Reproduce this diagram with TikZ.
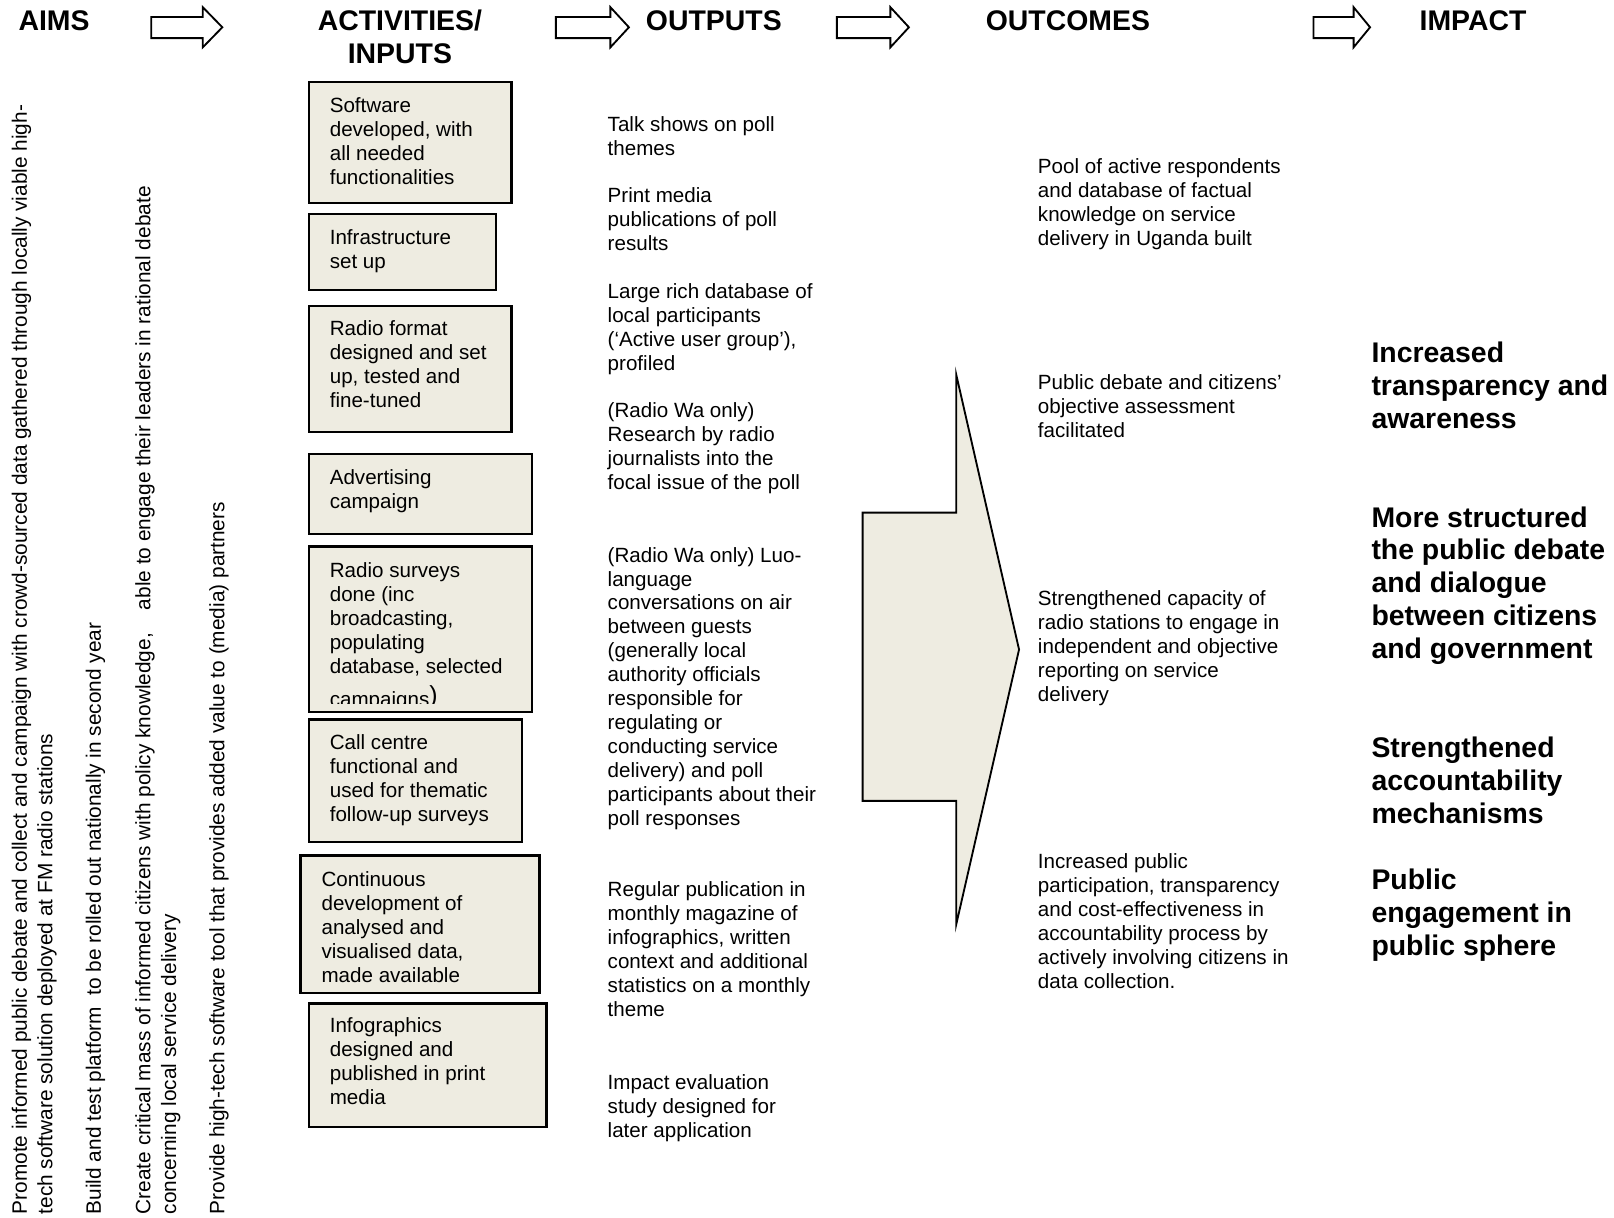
\documentclass[tikz,border=0pt]{standalone}
\usepackage{fontspec}
\setmainfont{Liberation Sans}
\usetikzlibrary{fit,calc}
\newcommand\mlines[1]{\begin{tabular}[t]{@{}l@{}}#1\end{tabular}}
\newcommand\clines[1]{\begin{tabular}[t]{@{}c@{}}#1\end{tabular}}
\definecolor{boxfill}{HTML}{EEECE1}
\begin{document}
\begin{tikzpicture}[x=0.5pt,y=-0.5pt,
  body/.style={font=\fontsize{10}{11.65}\selectfont, inner sep=0, anchor=base west},
  bigbold/.style={font=\fontsize{13.8}{16}\selectfont\bfseries, inner sep=0, anchor=base west},
  hdr/.style={font=\fontsize{13.8}{16}\selectfont\bfseries, inner sep=0, anchor=base},
  aim/.style={font=\fontsize{10.12}{11.65}\selectfont, inner sep=0, anchor=base west, rotate=90},
  actbox/.style={draw=black, line width=1.1pt, fill=boxfill, inner sep=0},
  hdrarrow/.style={draw=black, line width=0.9pt, fill=white, line join=miter},
  bigarrow/.style={draw=black, line width=0.9pt, fill=boxfill, line join=miter},
]
\useasboundingbox (0,0) rectangle (1568,1183);

% ---------- headers ----------
\node[hdr] (hAims) at (52.5,30) {AIMS};
\node[hdr] (hAct) at (388.5,30) {\clines{ACTIVITIES/\\INPUTS}};
\node[hdr] (hOut) at (693.5,30) {OUTPUTS};
\node[hdr] (hOutc) at (1037.5,30) {OUTCOMES};
\node[hdr] (hImp) at (1431,30) {IMPACT};

\newcommand\hdrarr[3]{%
  \draw[hdrarrow] (#1,16.5) -- (#2,16.5) -- (#2,7) -- (#3,26.5) -- (#2,46) -- (#2,37) -- (#1,37) -- cycle;}
\hdrarr{147}{197}{216}
\hdrarr{540}{593}{611}
\hdrarr{813}{865}{883}
\hdrarr{1276}{1315}{1331}

% ---------- aims (rotated) ----------
\node[aim] (aim1) at (26,1180) {Promote informed public debate and collect and campaign with crowd-sourced data gathered through locally viable high-};
\node[aim] (aim2) at (51,1180) {tech software solution deployed at FM radio stations};
\node[aim] (aim3) at (98,1180) {Build and test platform\ \ to be rolled out nationally in second year};
\node[aim] (aim4) at (146,1180) {Create critical mass of informed citizens with policy knowledge,\hspace{1.1em}able to engage their leaders in rational debate};
\node[aim] (aim5) at (171,1180) {concerning local service delivery};
\node[aim] (aim6) at (218,1180) {Provide high-tech software tool that provides added value to (media) partners};

% ---------- activity boxes ----------
\node[actbox, fit={(300,80) (497,197)}] (a1) {};
\node[actbox, fit={(300,208) (482,282)}] (a2) {};
\node[actbox, fit={(300,297) (497,420)}] (a3) {};
\node[actbox, fit={(300,441) (517,519)}] (a4) {};
\node[actbox, fit={(300,531) (517,692)}] (a5) {};
\node[actbox, fit={(300,699) (507,818)}] (a6) {};
\node[actbox, fit={(292,831) (524,965)}] (a7) {};
\node[actbox, fit={(300,975) (531,1095)}] (a8) {};

\node[body] (t1) at (320,109) {\mlines{Software\\developed, with\\all needed\\functionalities}};
\node[body] (t2) at (320,238) {\mlines{Infrastructure\\set up}};
\node[body] (t3) at (320,326) {\mlines{Radio format\\designed and set\\up, tested and\\fine-tuned}};
\node[body] (t4) at (320,471) {\mlines{Advertising\\campaign}};
\begin{scope}
  \clip ($(a5.north west)+(2,2)$) rectangle ($(a5.south east)+(-2,-10)$);
  \node[body] (t5) at (320,561) {\mlines{Radio surveys\\done (inc\\broadcasting,\\populating\\database, selected\\[2.5pt]campaigns{\fontsize{12}{12}\selectfont\raisebox{1.5pt}{)}}}};
\end{scope}
\node[body] (t6) at (320,728) {\mlines{Call centre\\functional and\\used for thematic\\follow-up surveys}};
\node[body] (t7) at (312,861) {\mlines{Continuous\\development of\\analysed and\\visualised data,\\made available}};
\node[body] (t8) at (320,1003) {\mlines{Infographics\\designed and\\published in print\\media}};

% ---------- outputs ----------
\node[body] (o1) at (590,128) {\mlines{Talk shows on poll\\themes}};
\node[body] (o2) at (590,197) {\mlines{Print media\\publications of poll\\results}};
\node[body] (o3) at (590,290) {\mlines{Large rich database of\\local participants\\(‘Active user group’),\\profiled}};
\node[body] (o4) at (590,406) {\mlines{(Radio Wa only)\\Research by radio\\journalists into the\\focal issue of the poll}};
\node[body] (o5) at (590,546) {\mlines{(Radio Wa only) Luo-\\language\\conversations on air\\between guests\\(generally local\\authority officials\\responsible for\\regulating or\\conducting service\\delivery) and poll\\participants about their\\poll responses}};
\node[body] (o6) at (590,871) {\mlines{Regular publication in\\monthly magazine of\\infographics, written\\context and additional\\statistics on a monthly\\theme}};
\node[body] (o7) at (590,1058) {\mlines{Impact evaluation\\study designed for\\later application}};

% ---------- big arrow ----------
\coordinate (ba1) at (838,498);
\coordinate (ba2) at (929,498);
\coordinate (ba3) at (929,364);
\coordinate (batip) at (990,631);
\coordinate (ba4) at (929,898);
\coordinate (ba5) at (929,778);
\coordinate (ba6) at (838,778);
\draw[bigarrow] (ba1) -- (ba2) -- (ba3) -- (batip) -- (ba4) -- (ba5) -- (ba6) -- cycle;

% ---------- outcomes ----------
\node[body] (c1) at (1008,169) {\mlines{Pool of active respondents\\and database of factual\\knowledge on service\\delivery in Uganda built}};
\node[body] (c2) at (1008,378) {\mlines{Public debate and citizens’\\objective assessment\\facilitated}};
\node[body] (c3) at (1008,588) {\mlines{Strengthened capacity of\\radio stations to engage in\\independent and objective\\reporting on service\\delivery}};
\node[body] (c4) at (1008,844) {\mlines{Increased public\\participation, transparency\\and cost-effectiveness in\\accountability process by\\actively involving citizens in\\data collection.}};

% ---------- impact ----------
\node[bigbold] (i1) at (1332,352) {\mlines{Increased\\transparency and\\awareness}};
\node[bigbold] (i2) at (1332,512) {\mlines{More structured\\the public debate\\and dialogue\\between citizens\\and government}};
\node[bigbold] (i3) at (1332,736) {\mlines{Strengthened\\accountability\\mechanisms}};
\node[bigbold] (i4) at (1332,864) {\mlines{Public\\engagement in\\public sphere}};
\end{tikzpicture}
\end{document}
